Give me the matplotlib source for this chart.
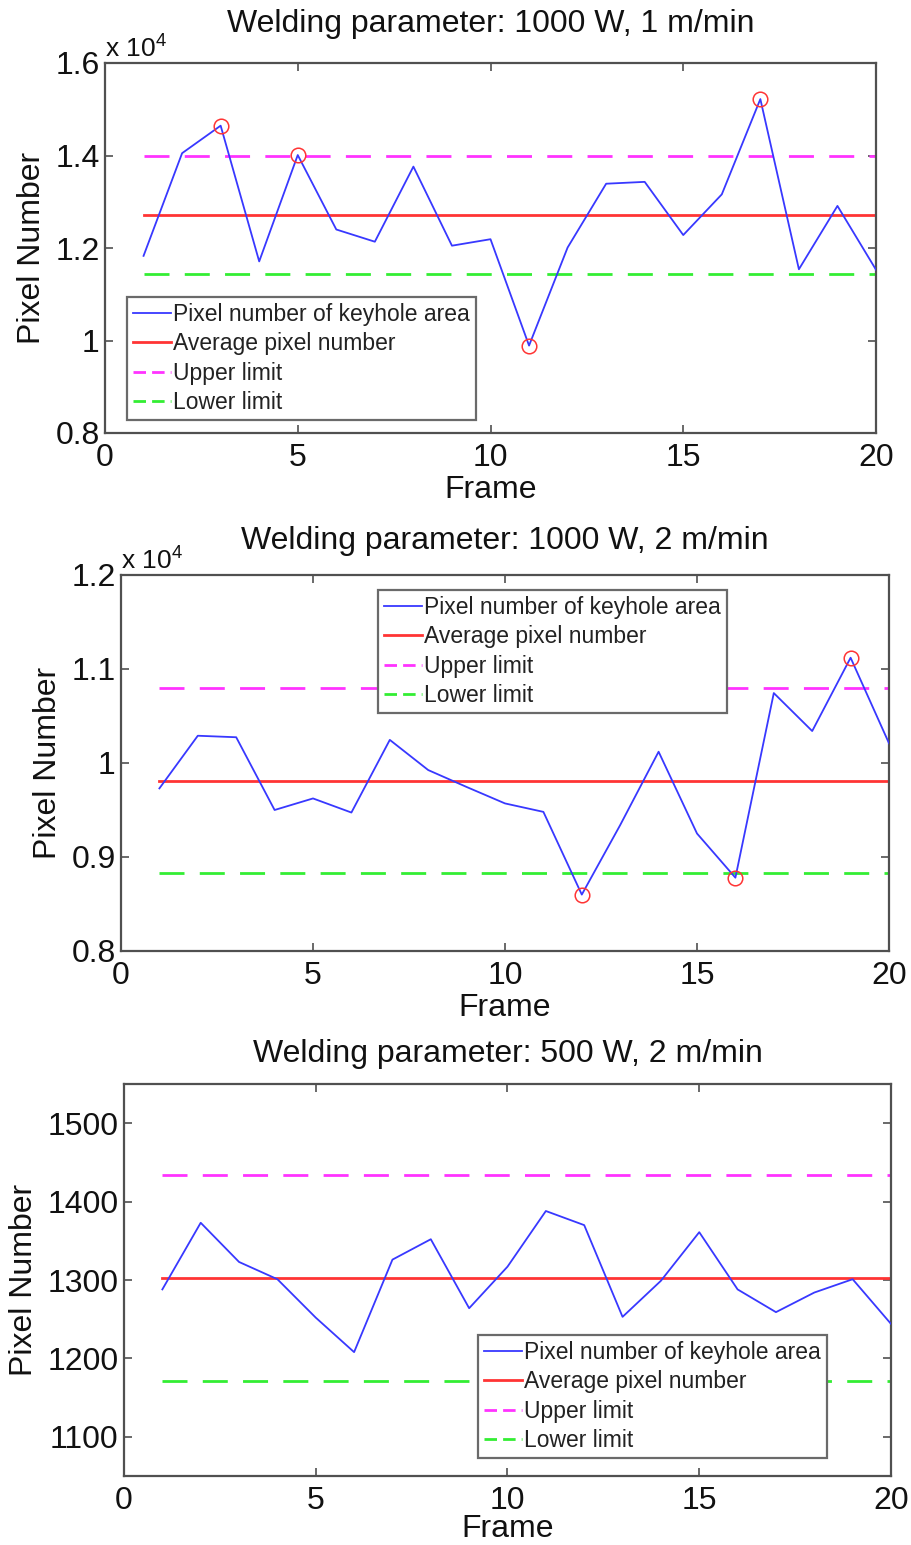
import matplotlib
matplotlib.use("Agg")
import matplotlib.pyplot as plt
from matplotlib.lines import Line2D
from matplotlib.ticker import FuncFormatter, FixedLocator

plt.rcParams["font.family"] = ["Liberation Sans", "DejaVu Sans"]
plt.rcParams["mathtext.fontset"] = "custom"
plt.rcParams["mathtext.rm"] = "Liberation Sans"
plt.rcParams["mathtext.it"] = "Liberation Sans:italic"

frames = list(range(1, 21))
legend_labels = ["Pixel number of keyhole area", "Average pixel number",
                 "Upper limit", "Lower limit"]

# Welding parameter: 1000 W, 1 m/min
title_1 = "Welding parameter: 1000 W, 1 m/min"
area_1 = [11830, 14050, 14645, 11710, 14010, 12400, 12136, 13760, 12050, 12190,
          9890, 12010, 13390, 13430, 12280, 13160, 15220, 11540, 12910, 11530]
mean_1 = 12724
upper_1 = 14000
lower_1 = 11434
flagged_1 = [3, 5, 11, 17]
yticks_1 = [8000, 10000, 12000, 14000, 16000]

# Welding parameter: 1000 W, 2 m/min
title_2 = "Welding parameter: 1000 W, 2 m/min"
area_2 = [9730, 10290, 10274, 9500, 9623, 9473, 10246, 9925, 9745, 9570,
          9480, 8600, 9340, 10120, 9250, 8780, 10744, 10340, 11120, 10210]
mean_2 = 9810
upper_2 = 10797
lower_2 = 8830
flagged_2 = [12, 16, 19]
yticks_2 = [8000, 9000, 10000, 11000, 12000]

# Welding parameter: 500 W, 2 m/min
title_3 = "Welding parameter: 500 W, 2 m/min"
area_3 = [1288, 1373, 1323, 1301, 1252, 1208, 1326, 1352, 1264, 1317,
          1388, 1370, 1253, 1299, 1361, 1288, 1259, 1284, 1301, 1244]
mean_3 = 1303
upper_3 = 1434
lower_3 = 1171
flagged_3 = []
yticks_3 = [1100, 1200, 1300, 1400, 1500]

xticks = [0, 5, 10, 15, 20]

BLUE = "#3838ff"
RED = "#ff3434"
MAGENTA = "#ff33ff"
GREEN = "#33ee33"
FRAME = "#505050"
TEXT = "#111111"
FS = 23

W, H = 912, 1545
fig = plt.figure(figsize=(W / 100, H / 100), dpi=100)


def px_rect(left, top, right, bottom):
    return [left / W, 1 - bottom / H, (right - left) / W, (bottom - top) / H]


def draw_panel(rect, title, values, mean, upper, lower, flagged, yticks, ylim,
               scaled, legend_anchor, ylabel_pad, title_pad, xlabel_pad):
    ax = fig.add_axes(rect)
    x0, x1 = frames[0], frames[-1]
    ax.plot(frames, values, color=BLUE, lw=1.3, zorder=3)
    ax.plot([x0, x1], [mean, mean], color=RED, lw=2.0, zorder=2)
    ax.plot([x0, x1], [upper, upper], color=MAGENTA, lw=2.0,
            dashes=(9, 5.5), zorder=2)
    ax.plot([x0, x1], [lower, lower], color=GREEN, lw=2.0,
            dashes=(9, 5.5), zorder=2)
    if flagged:
        ax.plot(flagged, [values[f - 1] for f in flagged], linestyle="none",
                marker="o", markersize=10.5, markerfacecolor="none",
                markeredgecolor=RED, markeredgewidth=1.1, zorder=4)

    ax.set_xlim(0, 20)
    ax.set_ylim(*ylim)
    ax.xaxis.set_major_locator(FixedLocator(xticks))
    ax.yaxis.set_major_locator(FixedLocator(yticks))
    if scaled:
        ax.yaxis.set_major_formatter(FuncFormatter(lambda v, p: f"{v / 1e4:g}"))
        ax.text(0.0, 1.0, r"x 10$^{4}$", transform=ax.transAxes,
                fontsize=19, ha="left", va="bottom", color=TEXT)
    else:
        ax.yaxis.set_major_formatter(FuncFormatter(lambda v, p: f"{v:g}"))

    ax.tick_params(direction="in", length=6, width=1.2, color=FRAME,
                   top=True, right=True, labelsize=FS, labelcolor=TEXT)
    ax.tick_params(axis="x", pad=7)
    ax.tick_params(axis="y", pad=3.8)
    for s in ax.spines.values():
        s.set_color(FRAME)
        s.set_linewidth(1.6)

    ax.set_title(title, fontsize=FS, pad=title_pad, color=TEXT)
    ax.set_xlabel("Frame", fontsize=FS, labelpad=xlabel_pad, color=TEXT)
    ax.set_ylabel("Pixel Number", fontsize=FS, labelpad=ylabel_pad, color=TEXT)

    # legend keys with a short two-dash pattern for the limit lines
    handles = [
        Line2D([], [], color=BLUE, lw=1.3),
        Line2D([], [], color=RED, lw=2.0),
        Line2D([], [], color=MAGENTA, lw=2.0, dashes=(4.5, 2.2)),
        Line2D([], [], color=GREEN, lw=2.0, dashes=(4.5, 2.2)),
    ]
    leg = ax.legend(handles, legend_labels,
                    loc="upper left",
                    bbox_to_anchor=(legend_anchor[0] / W, 1 - legend_anchor[1] / H),
                    bbox_transform=fig.transFigure,
                    fontsize=16.5, frameon=True, fancybox=False, framealpha=1.0,
                    handlelength=1.65, handletextpad=0.12, labelspacing=0.28,
                    borderpad=0.25, borderaxespad=0.0)
    leg.set_zorder(10)
    leg.get_frame().set_edgecolor("#6a6a6a")
    leg.get_frame().set_linewidth(1.6)
    for t in leg.get_texts():
        t.set_color("#222222")
    return ax


draw_panel(px_rect(105, 63, 876, 433), title_1, area_1, mean_1, upper_1,
           lower_1, flagged_1, yticks_1, (8000, 16000), True, (127, 297),
           6, 22, 2)
draw_panel(px_rect(121, 575, 889, 951), title_2, area_2, mean_2, upper_2,
           lower_2, flagged_2, yticks_2, (8000, 12000), True, (378, 590),
           6, 19, 2)
draw_panel(px_rect(124, 1084, 891, 1476), title_3, area_3, mean_3, upper_3,
           lower_3, flagged_3, yticks_3, (1050, 1550), False, (478, 1335),
           6, 16, -1)

fig.savefig("out.png", dpi=100, facecolor="white")
